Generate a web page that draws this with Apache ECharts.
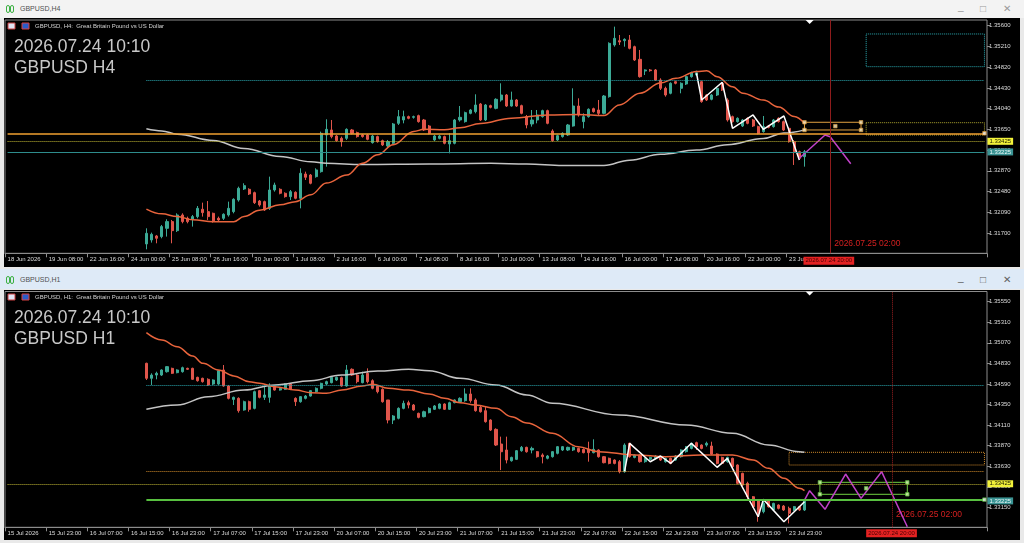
<!DOCTYPE html>
<html>
<head>
<meta charset="utf-8">
<title>GBPUSD H4 / H1</title>
<script src="https://cdn.jsdelivr.net/npm/echarts@6.0.0/dist/echarts.min.js"></script>
<style>
  html, body { margin: 0; padding: 0; }
  body { width: 1024px; height: 543px; background: #e9e9e9; position: relative; overflow: hidden; font-family: 'Liberation Sans', Arial, sans-serif; }
  .bar { position: absolute; left: 0; width: 1024px; }
  .bar .name { position: absolute; left: 20px; font-size: 7px; line-height: 8px; color: #505050; }
  .bar .ico { position: absolute; width: 2px; height: 6px; border: 1px solid #3cb043; border-radius: 2px; }
  .bar .ctl { position: absolute; font-size: 10px; line-height: 10px; color: #9a9a9a; }
  .pane { position: absolute; left: 4px; width: 1016px; background: #000; }
  #main { position: absolute; left: 0; top: 0; width: 1024px; height: 543px; }
</style>
</head>
<body>
<div class="bar" style="top:0;height:18px;background:#f3f3f3;">
  <span class="ico" style="left:6px;top:5px;"></span><span class="ico" style="left:10px;top:5px;"></span>
  <span class="name" style="top:5px;">GBPUSD,H4</span>
  <span class="ctl" style="left:958px;top:2px;">_</span>
  <span class="ctl" style="left:980px;top:4px;">&#9633;</span>
  <span class="ctl" style="left:1003px;top:4px;">&#10005;</span>
</div>
<div class="pane" style="top:18px;height:249px;"></div>
<div class="bar" style="top:269px;height:20px;background:#deeaf7;">
  <span class="ico" style="left:6px;top:7px;"></span><span class="ico" style="left:10px;top:7px;"></span>
  <span class="name" style="top:7px;">GBPUSD,H1</span>
  <span class="ctl" style="left:958px;top:4px;color:#606060;">_</span>
  <span class="ctl" style="left:980px;top:6px;color:#606060;">&#9633;</span>
  <span class="ctl" style="left:1003px;top:6px;color:#606060;">&#10005;</span>
</div>
<div class="pane" style="top:290px;height:250px;"></div>
<div id="main"></div>

<script type="text/javascript">
// ---- time axis: slots and tick labels (a label every 8 bars)
var barSlots = 191;
var firstBar = 27;
var h4TimeLabels = ['18 Jun 2026', '19 Jun 08:00', '22 Jun 16:00', '24 Jun 00:00', '25 Jun 08:00', '26 Jun 16:00',
  '30 Jun 00:00', '1 Jul 08:00', '2 Jul 16:00', '6 Jul 00:00', '7 Jul 08:00', '8 Jul 16:00', '10 Jul 00:00',
  '13 Jul 08:00', '14 Jul 16:00', '16 Jul 00:00', '17 Jul 08:00', '20 Jul 16:00', '22 Jul 00:00', '23 Jul 08:00'];
var h1TimeLabels = ['15 Jul 2026', '15 Jul 23:00', '16 Jul 07:00', '16 Jul 15:00', '16 Jul 23:00', '17 Jul 07:00',
  '17 Jul 15:00', '17 Jul 23:00', '20 Jul 07:00', '20 Jul 15:00', '20 Jul 23:00', '21 Jul 07:00', '21 Jul 15:00',
  '21 Jul 23:00', '22 Jul 07:00', '22 Jul 15:00', '22 Jul 23:00', '23 Jul 07:00', '23 Jul 15:00', '23 Jul 23:00'];

// ---- price scales
var h4PriceTicks = [1.317, 1.3209, 1.3248, 1.3287, 1.3326, 1.3365, 1.3404, 1.3443, 1.3482, 1.3521, 1.356];
var h1PriceTicks = [1.3315, 1.3339, 1.3363, 1.3387, 1.3411, 1.3435, 1.3459, 1.3483, 1.3507, 1.3531, 1.3555];
var h4Range = [1.31318, 1.35707];
var h1Range = [1.32917, 1.35669];

// ---- H4 candles [open, close, low, high]
var h4Candles = [
  [1.31494,1.31694,1.31393,1.31788],[1.31569,1.31675,1.31519,1.31707],[1.31644,1.31600,1.31506,1.31663],
  [1.31632,1.31820,1.31600,1.31851],[1.31788,1.31914,1.31632,1.31958],[1.31914,1.31744,1.31506,1.31945],
  [1.31744,1.32039,1.31719,1.32070],[1.32039,1.31914,1.31882,1.32070],[1.31976,1.31914,1.31882,1.32008],
  [1.31958,1.32008,1.31820,1.32039],[1.32008,1.32164,1.31976,1.32208],[1.32146,1.32083,1.32008,1.32271],
  [1.32102,1.32008,1.31945,1.32302],[1.32070,1.31926,1.31895,1.32083],[1.31976,1.31945,1.31914,1.32008],
  [1.31976,1.32052,1.31945,1.32070],[1.32039,1.32164,1.32008,1.32290],[1.32102,1.32334,1.32070,1.32353],
  [1.32321,1.32541,1.32290,1.32572],[1.32528,1.32591,1.32509,1.32635],[1.32522,1.32434,1.32415,1.32541],
  [1.32459,1.32271,1.32246,1.32478],[1.32302,1.32227,1.32196,1.32321],[1.32290,1.32133,1.32114,1.32309],
  [1.32164,1.32509,1.32133,1.32760],[1.32509,1.32603,1.32478,1.32647],[1.32522,1.32447,1.32428,1.32541],
  [1.32447,1.32384,1.32365,1.32465],[1.32384,1.32478,1.32321,1.32509],[1.32465,1.32353,1.32334,1.32484],
  [1.32353,1.32823,1.32164,1.32917],[1.32810,1.32748,1.32697,1.32854],[1.32791,1.32635,1.32616,1.32810],
  [1.32760,1.32886,1.32741,1.32917],[1.32854,1.33575,1.32835,1.33607],[1.33544,1.33650,1.32948,1.33839],
  [1.33638,1.33513,1.33481,1.33826],[1.33525,1.33437,1.33418,1.33544],[1.33481,1.33418,1.33324,1.33513],
  [1.33481,1.33650,1.33450,1.33669],[1.33638,1.33575,1.33556,1.33657],[1.33588,1.33513,1.33494,1.33607],
  [1.33544,1.33513,1.33494,1.33563],[1.33544,1.33462,1.33444,1.33563],[1.33400,1.33525,1.33381,1.33544],
  [1.33513,1.33418,1.33400,1.33531],[1.33437,1.33356,1.33337,1.33456],[1.33337,1.33418,1.33293,1.33450],
  [1.33387,1.33751,1.33368,1.33770],[1.33763,1.33889,1.33732,1.34014],[1.33826,1.33889,1.33763,1.34002],
  [1.33889,1.33857,1.33839,1.33908],[1.33876,1.33889,1.33851,1.33908],[1.33908,1.33795,1.33776,1.33926],
  [1.33826,1.33638,1.33619,1.33845],[1.33713,1.33575,1.33556,1.33732],[1.33450,1.33525,1.33431,1.33544],
  [1.33481,1.33525,1.33462,1.33544],[1.33513,1.33387,1.33368,1.33531],[1.33375,1.33437,1.33199,1.33575],
  [1.33387,1.33826,1.33368,1.33845],[1.33826,1.33876,1.33795,1.34089],[1.33795,1.33964,1.33776,1.33983],
  [1.33951,1.34014,1.33933,1.34033],[1.33983,1.34108,1.33951,1.34309],[1.34127,1.33826,1.33807,1.34146],
  [1.33826,1.34108,1.33807,1.34127],[1.34096,1.34064,1.34045,1.34114],[1.34045,1.34215,1.34027,1.34234],
  [1.34202,1.34296,1.34171,1.34516],[1.34296,1.34089,1.34071,1.34315],[1.34089,1.34202,1.34077,1.34359],
  [1.34202,1.34089,1.34071,1.34221],[1.34096,1.33951,1.33933,1.34114],[1.33889,1.33732,1.33669,1.33920],
  [1.33751,1.33826,1.33701,1.34014],[1.33826,1.33920,1.33763,1.34014],[1.33889,1.34002,1.33870,1.34020],
  [1.34002,1.33763,1.33745,1.34020],[1.33619,1.33437,1.33418,1.33650],[1.33450,1.33531,1.33431,1.33550],
  [1.33513,1.33575,1.33494,1.33594],[1.33544,1.33732,1.33525,1.33751],[1.33713,1.34089,1.33701,1.34422],
  [1.34089,1.33920,1.33889,1.34234],[1.33795,1.33889,1.33669,1.33951],[1.33889,1.34027,1.33870,1.34045],
  [1.34039,1.33983,1.33964,1.34058],[1.34014,1.33951,1.33920,1.34202],[1.33951,1.34277,1.33933,1.34296],
  [1.34265,1.35268,1.34246,1.35287],[1.35237,1.35362,1.35205,1.35582],[1.35318,1.35293,1.35237,1.35425],
  [1.35318,1.35343,1.35205,1.35362],[1.35331,1.35174,1.35155,1.35425],[1.35205,1.34955,1.34936,1.35224],
  [1.34967,1.34641,1.34622,1.35143],[1.34748,1.34767,1.34672,1.34779],[1.34767,1.34754,1.34735,1.34785],
  [1.34767,1.34578,1.34560,1.34785],[1.34578,1.34422,1.34390,1.34610],[1.34422,1.34296,1.34265,1.34453],
  [1.34328,1.34516,1.34309,1.34535],[1.34547,1.34516,1.34497,1.34566],[1.34422,1.34516,1.34328,1.34535],
  [1.34503,1.34641,1.34484,1.34660],[1.34641,1.34716,1.34622,1.34735],[1.34672,1.34716,1.34654,1.34754],
  [1.34547,1.34171,1.34150,1.34566],[1.34296,1.34202,1.34183,1.34315],[1.34215,1.34296,1.34196,1.34315],
  [1.34296,1.34422,1.34277,1.34441],[1.34516,1.34390,1.34372,1.34535],[1.34202,1.33826,1.33795,1.34234],
  [1.33889,1.33795,1.33776,1.33908],[1.33795,1.33857,1.33776,1.33876],[1.33713,1.33826,1.33694,1.33845],
  [1.33857,1.33763,1.33745,1.33876],[1.33826,1.33713,1.33694,1.33845],[1.33701,1.33575,1.33556,1.33719],
  [1.33607,1.33701,1.33588,1.33901],[1.33713,1.33688,1.33669,1.33732],[1.33701,1.33826,1.33682,1.33845],
  [1.33857,1.33795,1.33776,1.33876],[1.33795,1.33638,1.33619,1.33814],[1.33669,1.33418,1.33400,1.33688],
  [1.33418,1.33230,1.32980,1.33450],[1.33230,1.33105,1.33086,1.33249],[1.33136,1.33230,1.32948,1.33262]
];
// H4 moving averages, read as [bar slot, price]
var h4MaFast = [[27,1.3215],[30,1.3206],[33,1.3201],[36,1.3195],[40,1.3191],[44,1.3191],[46,1.3201],[49,1.3213],
  [53,1.3223],[56,1.3229],[59,1.3242],[62,1.3264],[66,1.3279],[69,1.3301],[72,1.3317],[75,1.3336],[79,1.3361],
  [81,1.3365],[85,1.3364],[88,1.3368],[92,1.3376],[98,1.3386],[105,1.3392],[111,1.3393],[116,1.3391],[119,1.3411],
  [123,1.3433],[127,1.3452],[130,1.3461],[134,1.3474],[136,1.3475],[138,1.3464],[141,1.3445],[143,1.3433],
  [147,1.3420],[150,1.3407],[153,1.3389],[155,1.3376]];
var h4MaSlow = [[27,1.3366],[30,1.3362],[33,1.3356],[40,1.3344],[46,1.3329],[53,1.3314],[59,1.3304],[62,1.3301],
  [69,1.3299],[82,1.3300],[94,1.3301],[101,1.3300],[108,1.3297],[116,1.3297],[121,1.3307],[127,1.3318],
  [134,1.3326],[140,1.3336],[147,1.3348],[151,1.3358],[155,1.3364]];
var h4Zigzag = [[133.8,1.34705],[135.2,1.34202],[139.3,1.34535],[141.3,1.33670],[144.8,1.33920],[146.8,1.33651],
  [150.7,1.33901],[153.9,1.33074]];
var h4Projection = [[154.4,1.33106],[159.1,1.33544],[160.1,1.33512],[163.5,1.33003]];

// ---- H1 candles [open, close, low, high]
var h1Candles = [
  [1.34831,1.34656,1.34636,1.34838],[1.34656,1.34694,1.34578,1.34714],[1.34694,1.34714,1.34644,1.34733],
  [1.34694,1.34753,1.34683,1.34761],[1.34733,1.34792,1.34722,1.34799],[1.34772,1.34714,1.34706,1.34780],
  [1.34722,1.34753,1.34714,1.34761],[1.34733,1.34780,1.34722,1.34792],[1.34772,1.34761,1.34753,1.34780],
  [1.34772,1.34644,1.34636,1.34780],[1.34667,1.34628,1.34617,1.34675],[1.34656,1.34617,1.34605,1.34663],
  [1.34644,1.34578,1.34566,1.34656],[1.34589,1.34636,1.34578,1.34644],[1.34589,1.34745,1.34578,1.34753],
  [1.34753,1.34566,1.34558,1.34811],[1.34566,1.34422,1.34410,1.34578],[1.34410,1.34434,1.34344,1.34442],
  [1.34422,1.34278,1.34255,1.34434],[1.34286,1.34383,1.34278,1.34395],[1.34383,1.34294,1.34266,1.34395],
  [1.34305,1.34500,1.34294,1.34512],[1.34512,1.34434,1.34422,1.34519],[1.34434,1.34461,1.34403,1.34558],
  [1.34434,1.34578,1.34371,1.34597],[1.34566,1.34519,1.34512,1.34578],[1.34519,1.34539,1.34512,1.34550],
  [1.34527,1.34589,1.34519,1.34597],[1.34589,1.34527,1.34519,1.34597],[1.34422,1.34383,1.34333,1.34434],
  [1.34383,1.34442,1.34371,1.34449],[1.34422,1.34449,1.34410,1.34461],[1.34449,1.34512,1.34442,1.34519],
  [1.34500,1.34539,1.34488,1.34550],[1.34539,1.34597,1.34527,1.34605],[1.34589,1.34617,1.34578,1.34628],
  [1.34605,1.34667,1.34597,1.34675],[1.34636,1.34667,1.34624,1.34675],[1.34663,1.34566,1.34558,1.34675],
  [1.34566,1.34753,1.34558,1.34811],[1.34761,1.34694,1.34683,1.34772],[1.34694,1.34617,1.34597,1.34714],
  [1.34605,1.34694,1.34597,1.34733],[1.34714,1.34617,1.34597,1.34772],[1.34628,1.34539,1.34527,1.34644],
  [1.34566,1.34500,1.34480,1.34578],[1.34527,1.34383,1.34371,1.34539],[1.34403,1.34169,1.34130,1.34403],
  [1.34169,1.34216,1.34122,1.34227],[1.34189,1.34305,1.34177,1.34317],[1.34305,1.34364,1.34294,1.34395],
  [1.34371,1.34344,1.34305,1.34395],[1.34344,1.34286,1.34278,1.34356],[1.34247,1.34200,1.34189,1.34255],
  [1.34208,1.34266,1.34200,1.34278],[1.34255,1.34305,1.34247,1.34317],[1.34294,1.34333,1.34286,1.34344],
  [1.34305,1.34356,1.34294,1.34364],[1.34356,1.34294,1.34286,1.34364],[1.34294,1.34371,1.34286,1.34383],
  [1.34371,1.34403,1.34364,1.34410],[1.34383,1.34422,1.34371,1.34434],[1.34395,1.34473,1.34383,1.34539],
  [1.34473,1.34395,1.34371,1.34539],[1.34403,1.34278,1.34266,1.34422],[1.34317,1.34266,1.34255,1.34333],
  [1.34278,1.34150,1.34138,1.34333],[1.34169,1.34052,1.34041,1.34177],[1.34060,1.33877,1.33866,1.34072],
  [1.33889,1.33799,1.33585,1.33975],[1.33819,1.33702,1.33663,1.33975],[1.33694,1.33733,1.33683,1.33741],
  [1.33710,1.33811,1.33702,1.33819],[1.33811,1.33850,1.33799,1.33866],[1.33850,1.33799,1.33788,1.33858],
  [1.33819,1.33838,1.33780,1.33858],[1.33800,1.33741,1.33730,1.33807],[1.33761,1.33741,1.33663,1.33780],
  [1.33722,1.33749,1.33710,1.33761],[1.33741,1.33800,1.33730,1.33807],[1.33780,1.33858,1.33768,1.33866],
  [1.33819,1.33858,1.33807,1.33866],[1.33819,1.33850,1.33807,1.33858],[1.33819,1.33850,1.33807,1.33858],
  [1.33838,1.33800,1.33788,1.33846],[1.33827,1.33788,1.33780,1.33838],[1.33827,1.33788,1.33683,1.33916],
  [1.33788,1.33827,1.33780,1.33944],[1.33819,1.33741,1.33730,1.33827],[1.33741,1.33671,1.33663,1.33749],
  [1.33722,1.33663,1.33652,1.33730],[1.33702,1.33663,1.33652,1.33710],[1.33683,1.33566,1.33547,1.33702],
  [1.33566,1.33877,1.33554,1.33897],[1.33897,1.33741,1.33730,1.33905],[1.33733,1.33761,1.33722,1.33768],
  [1.33761,1.33683,1.33671,1.33768],[1.33683,1.33722,1.33671,1.33730],[1.33710,1.33733,1.33702,1.33741],
  [1.33722,1.33749,1.33710,1.33761],[1.33741,1.33702,1.33691,1.33749],[1.33683,1.33722,1.33671,1.33730],
  [1.33722,1.33663,1.33652,1.33730],[1.33702,1.33749,1.33691,1.33761],[1.33741,1.33819,1.33730,1.33827],
  [1.33800,1.33858,1.33788,1.33866],[1.33838,1.33897,1.33827,1.33905],[1.33905,1.33858,1.33819,1.33916],
  [1.33877,1.33838,1.33827,1.33885],[1.33877,1.33897,1.33858,1.33916],[1.33866,1.33772,1.33761,1.33916],
  [1.33772,1.33663,1.33652,1.33780],[1.33733,1.33663,1.33652,1.33741],[1.33683,1.33733,1.33671,1.33741],
  [1.33722,1.33624,1.33613,1.33730],[1.33644,1.33430,1.33418,1.33652],[1.33547,1.33410,1.33399,1.33554],
  [1.33430,1.33274,1.33235,1.33449],[1.33274,1.33158,1.33146,1.33282],[1.33235,1.33080,1.32982,1.33235],
  [1.33099,1.33196,1.33080,1.33235],[1.33235,1.33158,1.33146,1.33243],[1.33119,1.33196,1.33107,1.33204],
  [1.33177,1.33138,1.33126,1.33185],[1.33165,1.33119,1.33107,1.33177],[1.33138,1.33080,1.32963,1.33158],
  [1.33119,1.33158,1.33107,1.33165],[1.33158,1.33119,1.33107,1.33165],[1.33119,1.33235,1.33107,1.33243]
];
var h1MaFast = [[27,1.35188],[30,1.35103],[33,1.35025],[36,1.34916],[38,1.34831],[41,1.34753],[44,1.34683],
  [47,1.34616],[49,1.34598],[52,1.34558],[56,1.34519],[59,1.34488],[62,1.34481],[65,1.34519],[69,1.34566],
  [71,1.34586],[74,1.34539],[78,1.34519],[82,1.34473],[85,1.34422],[88,1.34371],[91,1.34344],[95,1.34306],
  [98,1.34208],[101,1.34134],[106,1.34014],[111,1.33857],[115,1.33799],[122,1.33761],[128,1.33741],
  [135,1.33761],[141,1.33761],[145,1.33702],[148,1.33605],[151,1.33489],[154,1.33372],[155,1.33345]];
var h1MaSlow = [[27,1.34294],[33,1.34344],[39,1.34441],[46,1.34519],[52,1.34578],[59,1.34628],[65,1.34694],
  [72,1.34741],[78,1.34761],[82,1.34745],[88,1.34656],[95,1.34578],[101,1.34461],[106,1.34364],[119,1.34228],
  [132,1.34111],[141,1.34014],[148,1.33877],[154,1.33799],[155,1.33792]];
var h1Zigzag = [[119.6,1.33566],[120.6,1.33897],[124.5,1.33682],[127.1,1.33749],[129,1.33664],[133.4,1.33897],
  [137.9,1.33617],[140.2,1.33722],[142,1.33489],[145.5,1.33040],[147.2,1.33243],[151,1.32982],[154.7,1.33215]];
var h1Projection = [[154.7,1.33235],[156.1,1.33344],[158.9,1.33127],[162.8,1.33539],[166,1.33255],
  [170.4,1.33566],[175.1,1.32924]];

// ---- levels and drawn objects
var bidPrice = 1.33225;
var alertPrice = 1.33425;
var tealLevel = 1.34570;
var h4OrangeLevel = 1.33576;
var h1OrangeLevel = 1.33574;
var h1GreenLevel = 1.33240;
var h4TealBox = [[167, 1.35444], [190, 1.34829]];
var h4OliveBox = [[167, 1.33775], [190, 1.33544]];
var h4OrangeBox = [[155, 1.33783], [166, 1.33638]];
var h1OrangeBox = [[152, 1.33792], [190, 1.33644]];
var h1GreenBox = [[158, 1.33442], [175, 1.33302]];
var h4Separator = 160;
var h1Separator = 172;
var nowText = '2026.07.24 10:10';
var separatorText = '2026.07.25 02:00';
var lastBarText = '2026.07.24 20:00';

var BULL = '#3caa96', BEAR = '#e0554b', AXIS = '#8c8c8c', LABEL = '#dcdcdc';
var FONT = 'Liberation Sans';

var slots = [];
for (var i = 0; i < barSlots; i++) slots.push(i);

function timeAxis(grid, labels) {
    var shown = function (idx) { return idx % 8 === 0 && idx / 8 < labels.length; };
    return {
        type: 'category', gridIndex: grid, data: slots, boundaryGap: true,
        axisLine: { show: true, lineStyle: { color: AXIS } },
        axisTick: { show: true, length: 4, interval: shown, lineStyle: { color: AXIS } },
        axisLabel: {
            interval: shown, align: 'left', margin: 3, color: LABEL, fontSize: 6, fontFamily: FONT,
            formatter: function (v, idx) { return labels[idx / 8] || ''; }
        },
        splitLine: { show: false }
    };
}

function priceAxis(grid, range, ticks) {
    return {
        type: 'value', gridIndex: grid, position: 'right', min: range[0], max: range[1],
        splitLine: { show: false }, axisLine: { show: false },
        axisTick: { show: true, length: 3, lineStyle: { color: AXIS }, customValues: ticks },
        axisLabel: {
            customValues: ticks, margin: 2, color: LABEL, fontSize: 6, fontFamily: FONT,
            formatter: function (v) { return v.toFixed(5); }
        }
    };
}

function candles(grid, rows) {
    return {
        type: 'candlestick', xAxisIndex: grid, yAxisIndex: grid, barWidth: 2.6, silent: true,
        encode: { x: 0, y: [1, 2, 3, 4] },
        data: rows.map(function (c, i) { return [firstBar + i, c[0], c[1], c[2], c[3]]; }),
        itemStyle: { color: BULL, color0: BEAR, borderColor: BULL, borderColor0: BEAR, borderWidth: 1 }
    };
}

function line(grid, pts, color, width, smooth) {
    return {
        type: 'line', xAxisIndex: grid, yAxisIndex: grid, data: pts, symbol: 'none', silent: true,
        smooth: smooth ? 0.4 : false, smoothMonotone: 'x',
        lineStyle: { color: color, width: width }, z: 4
    };
}

function tag(text, bg, fg) {
    return {
        show: true, position: 'end', distance: 3, formatter: text, backgroundColor: bg, color: fg,
        fontSize: 6, fontFamily: FONT, padding: [1, 2, 0, 2]
    };
}

// horizontal level from a start slot to the right edge
function level(from, price, style, label) {
    var start = { coord: [from, price], lineStyle: style };
    if (label) start.label = label;
    return [start, { coord: [barSlots - 1, price] }];
}

function box(b, color, type) {
    return [{ coord: b[0], itemStyle: { color: 'rgba(0,0,0,0)', borderColor: color, borderWidth: 1, borderType: type } },
            { coord: b[1] }];
}

function handles(b) {
    var mid = [(b[0][0] + b[1][0]) / 2, (b[0][1] + b[1][1]) / 2];
    return [b[0], [b[1][0], b[0][1]], [b[0][0], b[1][1]], b[1], mid];
}

function handleSeries(grid, pts, fill, stroke) {
    return {
        type: 'scatter', xAxisIndex: grid, yAxisIndex: grid, data: pts, symbol: 'rect', symbolSize: 3.5,
        silent: true, z: 6, itemStyle: { color: fill, borderColor: stroke, borderWidth: 0.8 }
    };
}

var chart = echarts.init(document.getElementById('main'));

var dotted = function (c) { return { color: c, type: 'dotted', width: 1 }; };
var solid = function (c, w) { return { color: c, type: 'solid', width: w || 1 }; };

var h4Series = candles(0, h4Candles);
h4Series.markLine = {
    symbol: 'none', silent: true, label: { show: false }, animation: false,
    data: [
        level(0, h4OrangeLevel, solid('#f0a030', 1.5)),
        level(0, alertPrice, dotted('#c4ba34'), tag(alertPrice.toFixed(5), '#f2f23a', '#202000')),
        level(0, bidPrice, solid('#2e8c8c'), tag(bidPrice.toFixed(5), '#3a9494', '#e8f8f8')),
        level(firstBar, tealLevel, dotted('#2aa8b0')),
        { xAxis: h4Separator, lineStyle: solid('#8e1c1c') }
    ]
};
h4Series.markArea = {
    silent: true, animation: false,
    data: [box(h4TealBox, '#2aa8b0', 'dotted'), box(h4OliveBox, '#b0a830', 'dotted'), box(h4OrangeBox, '#e0a040', 'solid')]
};

var h1Series = candles(1, h1Candles);
h1Series.markLine = {
    symbol: 'none', silent: true, label: { show: false }, animation: false,
    data: [
        level(firstBar, tealLevel, dotted('#2aa8b0')),
        level(firstBar, h1OrangeLevel, dotted('#d08a2a')),
        level(0, alertPrice, dotted('#c4ba34'), tag(alertPrice.toFixed(5), '#f2f23a', '#202000')),
        level(firstBar, h1GreenLevel, solid('#58c040', 2)),
        level(barSlots - 2, bidPrice, solid('rgba(0,0,0,0)', 0.1), tag(bidPrice.toFixed(5), '#3a9494', '#e8f8f8')),
        { xAxis: h1Separator, lineStyle: dotted('#9a2020') }
    ]
};
h1Series.markArea = {
    silent: true, animation: false,
    data: [box(h1OrangeBox, '#d08a2a', 'dotted'), box(h1GreenBox, '#70d040', 'solid')]
};

chart.setOption({
    animation: false,
    backgroundColor: 'transparent',
    grid: [
        { left: 5, top: 20, width: 982, height: 233.3, show: true, borderColor: AXIS, borderWidth: 1, backgroundColor: 'transparent' },
        { left: 5, top: 291.5, width: 982, height: 235.8, show: true, borderColor: AXIS, borderWidth: 1, backgroundColor: 'transparent' }
    ],
    xAxis: [timeAxis(0, h4TimeLabels), timeAxis(1, h1TimeLabels)],
    yAxis: [priceAxis(0, h4Range, h4PriceTicks), priceAxis(1, h1Range, h1PriceTicks)],
    series: [
        h4Series,
        line(0, h4MaSlow, '#c4c4c4', 1.5, true),
        line(0, h4MaFast, '#e8643c', 1.5, true),
        line(0, h4Zigzag, '#ffffff', 1.5, false),
        line(0, h4Projection, '#c040c8', 1.5, false),
        handleSeries(0, handles(h4OrangeBox), '#fff0c8', '#e0a040'),
        handleSeries(0, [[barSlots - 1, h4OrangeLevel]], '#ffffff', '#f0a030'),
        h1Series,
        line(1, h1MaSlow, '#c4c4c4', 1.5, true),
        line(1, h1MaFast, '#e8643c', 1.5, true),
        line(1, h1Zigzag, '#ffffff', 1.5, false),
        line(1, h1Projection, '#c040c8', 1.5, false),
        handleSeries(1, handles(h1GreenBox), '#d8ffb0', '#60c040'),
        handleSeries(1, [[barSlots - 1, h1GreenLevel]], '#ffffff', '#58c040')
    ]
});

// ---- texts and markers anchored to the axes
function px(g, k, p) { return chart.convertToPixel({ xAxisIndex: g, yAxisIndex: g }, [k, p]); }

function paneTexts(y0, tf) {
    return [
        { type: 'rect', shape: { x: 8, y: y0 + 23, width: 7, height: 6 }, style: { fill: '#dfe4f4', stroke: '#c83c3c', lineWidth: 1 } },
        { type: 'rect', shape: { x: 22, y: y0 + 23, width: 7, height: 6 }, style: { fill: '#2a5cc8', stroke: '#d84040', lineWidth: 1 } },
        { type: 'text', x: 35, y: y0 + 26, style: { text: 'GBPUSD, ' + tf + ':  Great Britain Pound vs US Dollar', fill: '#d4d4d4', font: '6px "' + FONT + '"', verticalAlign: 'middle' } },
        { type: 'text', x: 14, y: y0 + 47.5, style: { text: nowText, fill: '#c8c8c8', font: '17.5px "' + FONT + '"', verticalAlign: 'middle' } },
        { type: 'text', x: 14, y: y0 + 68.5, style: { text: 'GBPUSD ' + tf, fill: '#c8c8c8', font: '17.5px "' + FONT + '"', verticalAlign: 'middle' } }
    ];
}

function shiftMarker(x, y) {
    return { type: 'polygon', shape: { points: [[x - 4, y], [x + 4, y], [x, y + 4]] }, style: { fill: '#ffffff' } };
}

var s4 = px(0, h4Separator, h4Range[0]);
var s1 = px(1, h1Separator, h1Range[0]);
var last4 = px(0, firstBar + h4Candles.length - 1, h4Range[0]);
var last1 = px(1, h1Separator - 5, h1Range[0]);
var shift4 = px(0, firstBar + h4Candles.length, h4Range[1]);
var shift1 = px(1, firstBar + h1Candles.length, h1Range[1]);

chart.setOption({
    graphic: paneTexts(0, 'H4').concat(paneTexts(271, 'H1')).concat([
        { type: 'text', x: s4[0] + 4, y: s4[1] - 10, style: { text: separatorText, fill: '#d42020', font: '8.5px "' + FONT + '"', verticalAlign: 'middle' } },
        { type: 'text', x: s1[0] + 4, y: s1[1] - 13, style: { text: separatorText, fill: '#d42020', font: '8.5px "' + FONT + '"', verticalAlign: 'middle' } },
        { type: 'text', x: last4[0] - 1, y: last4[1] + 3.5, z: 10, style: { text: lastBarText, fill: '#4a0000', backgroundColor: '#e42222', padding: [1, 2, 1, 2], font: '6px "' + FONT + '"' } },
        { type: 'text', x: last1[0], y: last1[1] + 2, z: 10, style: { text: lastBarText, fill: '#4a0000', backgroundColor: '#e42222', padding: [1, 2, 1, 2], font: '6px "' + FONT + '"' } },
        shiftMarker(shift4[0], shift4[1]),
        shiftMarker(shift1[0], shift1[1])
    ])
});
</script>
</body>
</html>
